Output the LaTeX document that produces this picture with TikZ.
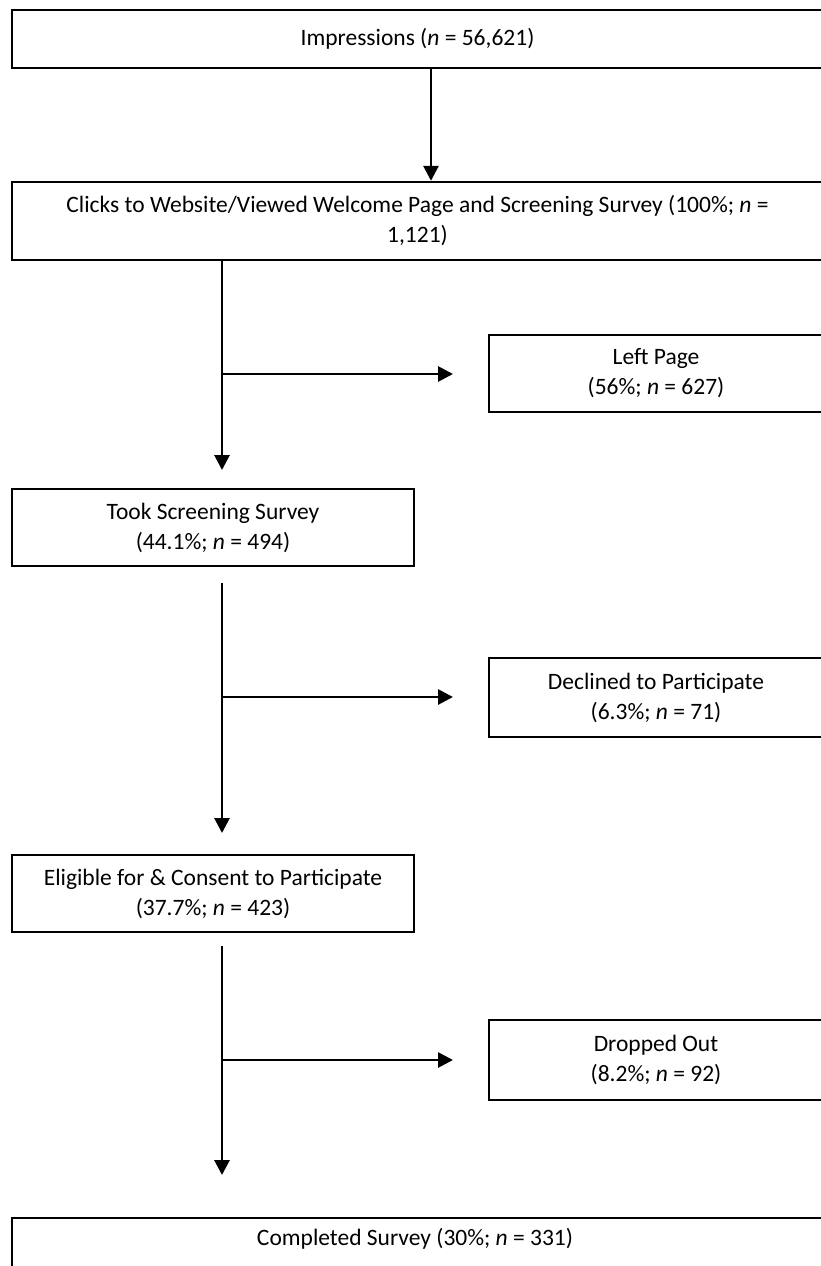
\documentclass[tikz,border=0pt]{standalone}
\usepackage{fontspec}
\setmainfont{Carlito}
\usetikzlibrary{arrows.meta}
\begin{document}
\begin{tikzpicture}[x=1pt,y=-1pt,
  conn/.style={line width=2.8pt},
  arr/.style={conn, -{Triangle[length=15pt,width=15pt]}},
  box/.style={draw, line width=2.4pt, align=center, inner sep=0pt,
    font=\fontsize{23.5}{30}\selectfont},
  lab/.style={align=center, inner sep=0pt, font=\fontsize{23.5}{30}\selectfont}]
\useasboundingbox (0,0) rectangle (821,1266);
\fill[white] (0,0) rectangle (821,1266);
\clip (0,0) rectangle (821,1266);

% main boxes
\node[box, minimum width=811pt, minimum height=58pt] (imp) at (417.5,39) {Impressions (\textit{n} = 56,621)};
\node[box, minimum width=811pt, minimum height=78pt] (clk) at (417.5,221)
  {Clicks to Website/Viewed Welcome Page and Screening Survey (100\%; \textit{n} =\\1,121)};
\node[box, minimum width=402pt, minimum height=77pt] (took) at (213,527.5)
  {Took Screening Survey\\(44.1\%; \textit{n} = 494)};
\node[box, minimum width=402pt, minimum height=77pt] (elig) at (213,893.5)
  {Eligible for \& Consent to Participate\\(37.7\%; \textit{n} = 423)};
\draw[line width=2.4pt] (12,1218) rectangle (823,1300);
\node[lab] (done) at (415,1239) {Completed Survey (30\%; \textit{n} = 331)};

% side boxes
\node[box, minimum width=334pt, minimum height=77pt] (left) at (656,373.5)
  {Left Page\\(56\%; \textit{n} = 627)};
\node[box, minimum width=334pt, minimum height=79pt] (decl) at (656,697.5)
  {Declined to Participate\\(6.3\%; \textit{n} = 71)};
\node[box, minimum width=334pt, minimum height=80pt] (drop) at (656,1060)
  {Dropped Out\\(8.2\%; \textit{n} = 92)};

% connector points
\coordinate (s1) at (222,259);
\coordinate (e1) at (222,470);
\coordinate (b1) at (222,374);
\coordinate (t1) at (453,374);
\coordinate (s2) at (222,583);
\coordinate (e2) at (222,833);
\coordinate (b2) at (222,697);
\coordinate (t2) at (453,697);
\coordinate (s3) at (222,946);
\coordinate (e3) at (222,1175);
\coordinate (b3) at (222,1060);
\coordinate (t3) at (453,1060);

% connectors
\draw[arr] (imp.south -| 431,0) -- (clk.north -| 431,0);
\draw[arr] (s1) -- (e1);
\draw[arr] (b1) -- (t1);
\draw[arr] (s2) -- (e2);
\draw[arr] (b2) -- (t2);
\draw[arr] (s3) -- (e3);
\draw[arr] (b3) -- (t3);
\end{tikzpicture}
\end{document}
